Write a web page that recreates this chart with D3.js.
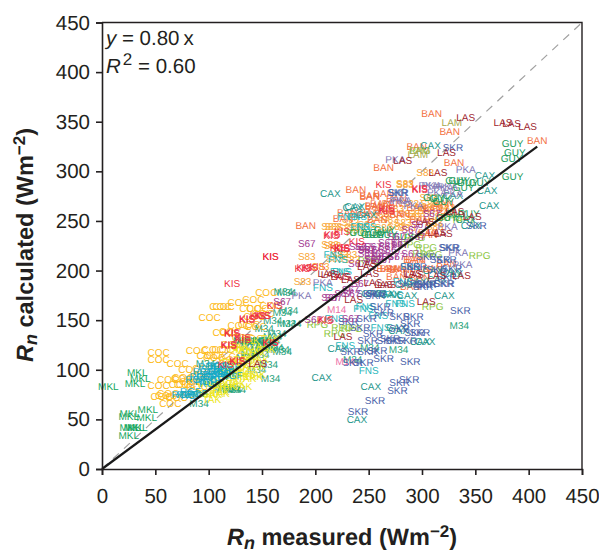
<!DOCTYPE html>
<html><head><meta charset="utf-8">
<script src="https://cdnjs.cloudflare.com/ajax/libs/d3/7.8.5/d3.min.js"></script>
<style>html,body{margin:0;padding:0;background:#fff}svg{display:block}
text{font-family:"Liberation Sans",Arial,sans-serif;fill:#231f20;text-rendering:geometricPrecision}</style></head><body>
<div id="chart"></div>
<script>
const tickValues=[0,50,100,150,200,250,300,350,400,450];
const regression=[[0,0],[408,325]];
const identity=[[0,0],[450,450]];
const MKL=[[33,97],[36,91],[31,86],[6,83],[26,56],[43,60],[25,53],[42,52],[26,42],[33,42],[30,42],[25,34]];
const COC=[[154,178],[142,171],[128,168],[114,164],[111,164],[101,153],[53,117],[53,110],[71,106],[89,119],[104,120],[113,120],[99,114],[108,114],[62,90],[76,92],[53,84],[56,73],[62,76],[64,66],[78,85],[95,101],[114,138],[128,145],[89,83],[95,93],[139,162],[146,162],[151,157],[143,154],[138,146],[144,144],[132,133],[141,132],[122,125],[132,123],[105,112],[120,110],[129,113],[60,74],[84,75],[70,72],[158,165],[120,139],[82,100],[75,91],[83,88],[73,85],[92,93]];
const M34=[[91,66],[158,91],[156,105],[97,106],[122,80],[114,80],[170,179],[169,158],[173,147],[167,120],[148,115],[155,127],[164,137],[173,178],[335,145],[278,120],[178,147],[161,122],[169,118],[120,81],[235,110],[251,122],[150,130],[160,150],[140,128],[152,142],[135,112],[175,160],[145,100],[139,123],[145,127],[151,130],[158,130],[142,130],[136,130],[148,120],[132,130],[160,134],[154,123],[139,117],[117,82],[126,80]];
const TAK=[[145,95],[136,91],[104,75],[97,86],[108,88],[120,93],[126,86],[114,100],[136,103],[154,120],[148,110],[98,76],[111,78],[129,96],[139,113],[120,107],[108,83],[132,83],[145,103],[129,123],[139,130],[158,132],[117,85],[125,98],[142,118],[120,90],[129,93],[136,96],[142,93],[123,100],[129,103],[117,95],[104,85],[111,76],[95,75],[103,70],[117,83],[126,107],[132,110],[139,110],[145,117],[148,123],[132,120],[126,120]];
const RGF=[[80,75],[84,74],[89,76],[92,93],[98,93],[104,95],[111,93],[97,88],[104,90],[114,100],[120,103],[109,96],[117,96],[101,86],[95,98],[108,104],[88,90],[122,94],[101,98],[114,98],[111,103],[100,103],[75,75],[83,78]];
const MKI=[[122,187],[158,214],[190,203],[202,204],[162,165],[136,151],[146,155],[151,155],[122,137],[132,133],[119,125],[158,127],[127,108],[209,150],[225,222],[122,138],[136,152],[150,155],[119,124],[132,131],[158,127],[116,105],[127,109]];
const FNS=[[250,99],[228,124],[247,164],[275,167],[259,155],[225,199],[261,143],[218,152],[207,183],[217,216],[284,167],[245,162],[230,254],[248,244],[242,244],[239,254],[221,211],[223,199],[289,204],[282,189],[258,177],[273,176]];
const CAX=[[214,278],[308,326],[359,296],[363,266],[361,281],[237,265],[341,251],[346,245],[206,92],[252,83],[239,50],[321,175],[221,121],[298,129],[278,140],[329,197],[235,264],[248,256],[329,276],[286,175],[310,200],[270,176],[253,177],[265,177],[303,128],[276,143],[326,199],[314,191],[295,189],[284,186]];
const SKR=[[325,223],[317,211],[321,187],[336,160],[301,184],[289,108],[288,90],[279,87],[277,79],[256,69],[240,58],[264,111],[292,154],[298,138],[275,130],[249,130],[233,118],[249,118],[258,119],[235,107],[245,107],[279,154],[254,137],[289,147],[242,143],[231,149],[329,324],[351,245],[277,279],[278,279],[326,223],[323,211],[320,187],[304,186],[286,187],[257,177],[295,204],[328,202],[301,186],[248,177],[261,164],[248,152],[279,142],[293,138],[267,130],[286,130],[270,132],[304,214],[314,201],[304,187],[289,204],[323,194],[256,175],[264,158]];
const S83=[[284,287],[303,299],[217,244],[192,214],[188,189],[205,204],[216,225],[261,253],[284,288],[229,243],[214,244],[214,226],[218,212],[231,216],[234,211],[270,251],[282,248],[292,254],[304,261],[314,254],[275,263],[317,266],[306,274],[264,243],[223,216],[301,264],[312,244],[289,268],[307,268],[323,264],[295,257],[311,248],[286,243],[276,244],[239,243],[248,246],[233,248],[286,258]];
const BAN=[[309,358],[326,340],[295,325],[330,309],[264,304],[408,331],[238,282],[191,245],[251,275],[230,259],[251,259],[256,265],[226,252],[305,236],[251,276],[264,278],[276,273],[256,266],[265,261],[242,256],[279,256],[295,264],[310,263],[323,259],[320,268],[298,251],[292,211],[267,202],[276,202],[306,238],[270,202],[279,201],[294,211],[298,202],[276,194],[289,184],[298,193],[310,202],[323,207],[261,268],[272,268],[273,258],[258,251]];
const S67=[[192,227],[169,169],[198,151],[217,173],[234,177],[233,152],[239,207],[248,221],[258,217],[267,224],[245,224],[264,211],[273,221],[254,211],[279,226],[270,214],[248,221],[261,221],[254,212],[276,234],[289,241],[226,177],[233,181],[214,173],[242,187],[298,246],[309,258],[254,224],[240,224],[248,217],[261,214],[276,214],[267,228],[279,228],[289,217],[295,234]];
const M14=[[220,161],[228,108]];
const RPG=[[354,215],[310,164],[202,146],[218,137],[225,143],[234,142],[298,321],[309,216],[293,233],[304,223],[301,217],[289,226],[328,253],[339,251],[239,238],[250,210]];
const PKA=[[275,312],[341,302],[324,244],[279,271],[306,286],[324,285],[187,175],[207,188],[338,206],[334,218],[309,286],[320,284],[281,271],[292,266],[314,279],[329,278]];
const KIS=[[264,287],[298,282],[215,235],[225,239],[267,261],[158,214],[298,283],[267,263],[216,236],[221,223],[225,223],[239,229],[195,203],[188,202],[226,194],[210,151],[225,222]];
const GUY=[[385,328],[387,319],[384,313],[385,295],[335,291],[343,289],[354,289],[339,284],[344,258],[267,236],[311,274],[320,270],[256,236],[261,238],[265,241],[253,236],[317,273],[332,291],[323,253],[332,258],[282,234],[242,238]];
const LAM=[[328,349],[296,317],[298,321]];
const LAS=[[341,354],[376,349],[384,348],[399,345],[323,319],[282,311],[315,299],[320,237],[347,254],[331,260],[337,195],[314,195],[291,197],[304,169],[251,197],[226,134],[236,171],[248,204],[211,197],[267,186],[233,191],[254,188],[146,106],[314,238],[303,249],[249,207],[293,196],[264,186],[214,196],[223,194]];
const series=[
 ["MKL",MKL,"#12a65c"],["COC",COC,"#fdbb1a"],["M34",M34,"#1fa27a"],["TAK",TAK,"#ece61c"],["RGF",RGF,"#12a9c6"],["KIS",MKI,"#ee2f42"],
 ["S83",S83,"#f9a533"],["BAN",BAN,"#f3703f"],["RPG",RPG,"#8cc63f"],["FNS",FNS,"#1fb6bb"],["CAX",CAX,"#1f978c"],["PKA",PKA,"#7f78b5"],["GUY",GUY,"#1b9a5a"],["M14",M14,"#ec6ea6"],["SKR",SKR,"#4a62a9"],["S67",S67,"#a0358f"],["KIS",KIS,"#ee2f42"],["LAM",LAM,"#a6a84c"],["LAS",LAS,"#9e1f2e"]
];
const svg=d3.select("#chart").append("svg").attr("width",599).attr("height",552);
const x=d3.scaleLinear().domain([0,450]).range([102,582]);
const y=d3.scaleLinear().domain([0,450]).range([469,22.5]);
const line=d3.line().x(d=>x(d[0])).y(d=>y(d[1]));
svg.append("path").attr("d",line(identity)).attr("fill","none").attr("stroke","#a0a0a0").attr("stroke-width",1.2).attr("stroke-dasharray","8 7");
series.forEach(([name,pts,col])=>{
 svg.append("g").selectAll("text").data(pts).join("text")
  .attr("x",d=>x(d[0])).attr("y",d=>y(d[1])).attr("dy","0.35em").attr("text-anchor","middle")
  .style("font-size","10px").style("fill",col).text(name);
});
svg.append("path").attr("d",line(regression)).attr("fill","none").attr("stroke","#1a1a1a").attr("stroke-width",2.2);
const gx=svg.append("g").attr("transform","translate(0,469)").call(d3.axisBottom(x).tickValues(tickValues).tickSizeOuter(0).tickSize(6).tickPadding(13));
const gy=svg.append("g").attr("transform","translate(102,0)").call(d3.axisLeft(y).tickValues(tickValues).tickSizeOuter(0).tickSize(6).tickPadding(6));
[gx,gy].forEach(g=>{g.selectAll("text").style("font-size","20.5px").style("font-family",'"Liberation Sans",Arial,sans-serif').style("fill","#231f20");
 g.selectAll("line,path").attr("stroke","#231f20").attr("stroke-width",1.6);});
svg.append("path").attr("d",line([[0,450],[450,450],[450,0]])).attr("fill","none").attr("stroke","#231f20").attr("stroke-width",1.4);
const eq1=svg.append("text").attr("x",106).attr("y",45).style("font-size","20.5px");
eq1.append("tspan").style("font-style","italic").text("y");eq1.append("tspan").text(" = 0.80\u2009x");
const eq2=svg.append("text").attr("x",106).attr("y",73).style("font-size","20.5px");
eq2.append("tspan").style("font-style","italic").text("R");
eq2.append("tspan").attr("dy",-8).attr("dx",2).style("font-size","17px").text("2");
eq2.append("tspan").attr("dy",8).text(" = 0.60");
function title(sel){
 sel.style("font-size","23.5px").style("font-weight","bold");
 sel.append("tspan").style("font-style","italic").text("R");
 sel.append("tspan").attr("dy",4).style("font-style","italic").style("font-size","18px").text("n");
 sel.append("tspan").attr("dy",-4).text(" ");
 sel.append("tspan").text(sel.attr("data-t")+" (Wm");
 sel.append("tspan").attr("dy",-8).style("font-size","17px").text("\u22122");
 sel.append("tspan").attr("dy",8).text(")");
}
svg.append("text").attr("data-t","measured").attr("x",342).attr("y",545).attr("text-anchor","middle").call(title);
svg.append("text").attr("data-t","calculated").attr("transform","translate(33,245) rotate(-90)").attr("text-anchor","middle").call(title);
</script></body></html>
